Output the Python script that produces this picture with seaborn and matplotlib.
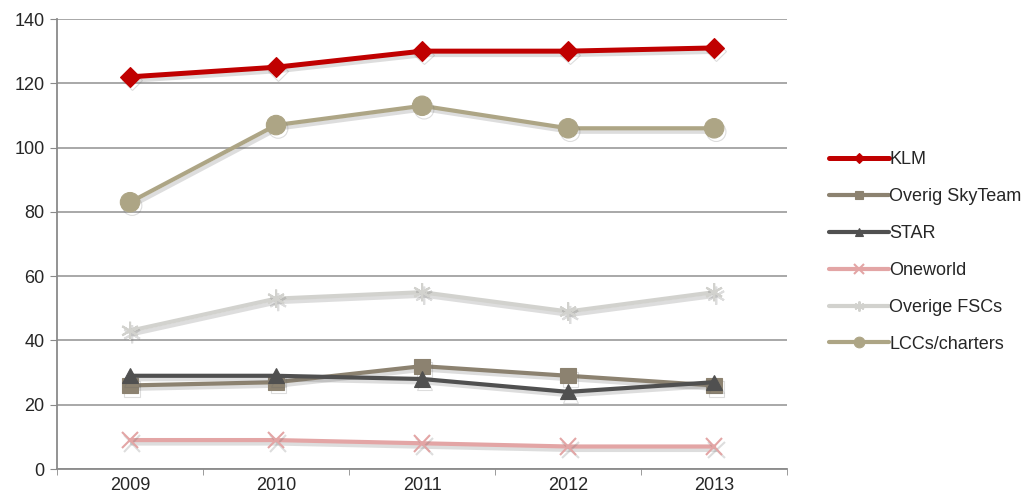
import matplotlib
matplotlib.use('Agg')
import matplotlib.pyplot as plt
import matplotlib.patheffects as pe
import seaborn as sns
import numpy as np
import pandas as pd

years = [2009, 2010, 2011, 2012, 2013]
klm = [122, 125, 130, 130, 131]
overig_skyteam = [26, 27, 32, 29, 26]
star = [29, 29, 28, 24, 27]
oneworld = [9, 9, 8, 7, 7]
overige_fscs = [43, 53, 55, 49, 55]
lccs_charters = [83, 107, 113, 106, 106]

series = [
    ('KLM', klm, '#C00000', 'D', 10, 3.6),
    ('Overig SkyTeam', overig_skyteam, '#8C8270', 's', 11, 3.0),
    ('STAR', star, '#505050', '^', 11, 3.0),
    ('Oneworld', oneworld, '#E3A5A5', 'x', 12, 3.0),
    ('Overige FSCs', overige_fscs, '#D2D2CE', (6, 2, 0), 13, 3.0),
    ('LCCs/charters', lccs_charters, '#ADA585', 'o', 14, 3.0),
]

sns.set_style('white')
plt.rcParams['font.family'] = ['Liberation Sans', 'DejaVu Sans']

fig = plt.figure(figsize=(10.24, 5), dpi=100)
ax = fig.add_axes([0.0557, 0.062, 0.713, 0.9])

shadow = [pe.SimpleLineShadow(offset=(1.5, -2.5), shadow_color='#666666', alpha=0.22), pe.Normal()]

for name, vals, color, marker, ms, lw in series:
    df = pd.DataFrame({'year': years, 'value': vals})
    mew = 1.5 if marker in ('x', (6, 2, 0)) else 0.8
    sns.lineplot(data=df, x='year', y='value', ax=ax, color=color, label=name,
                 marker=marker, markersize=ms, linewidth=lw,
                 markeredgecolor=color, markeredgewidth=mew,
                 path_effects=shadow)

ax.set_xlim(2008.5, 2013.5)
ax.set_ylim(0, 140)
ax.set_yticks(np.arange(0, 141, 20))
ax.set_xticks(years)
ax.set_xticks(np.arange(2008.5, 2014, 1), minor=True)
ax.set_xlabel('')
ax.set_ylabel('')
ax.grid(axis='y', color='#9a9a9a', linewidth=1.2)
ax.grid(axis='x', visible=False)
ax.set_axisbelow(True)
for s in ['top', 'right']:
    ax.spines[s].set_visible(False)
for s in ['left', 'bottom']:
    ax.spines[s].set_color('#8a8a8a')
    ax.spines[s].set_linewidth(1.3)
ax.tick_params(axis='y', which='major', direction='out', length=5, color='#8a8a8a',
               labelsize=13, left=True, pad=4)
ax.tick_params(axis='x', which='major', length=0, labelsize=13, pad=6)
ax.tick_params(axis='x', which='minor', direction='out', length=4, color='#8a8a8a', bottom=True)

leg = ax.legend(loc='center left', bbox_to_anchor=(1.035, 0.482), frameon=False,
                fontsize=13, handlelength=3.3, labelspacing=1.1, handletextpad=0.05,
                markerscale=0.55)
for h in leg.get_lines():
    h.set_path_effects([])

fig.savefig('out.png', dpi=100)
